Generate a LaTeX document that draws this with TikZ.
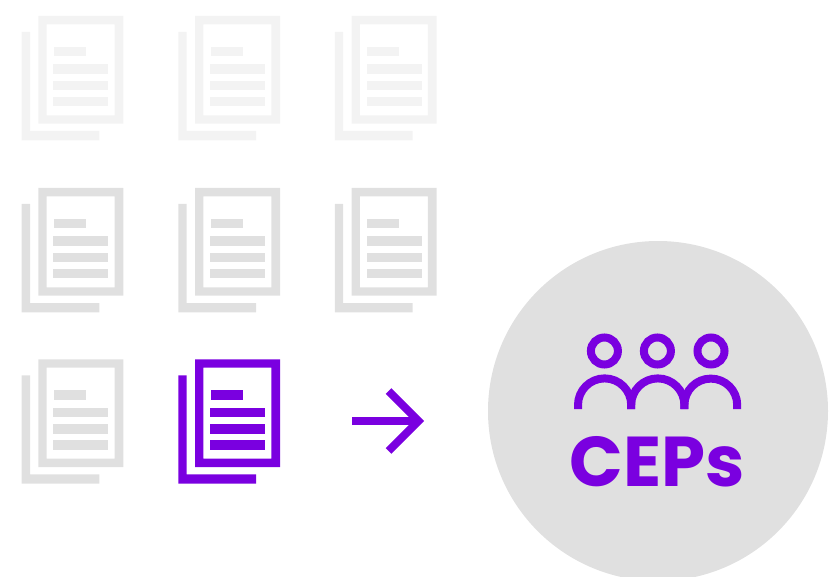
\documentclass[tikz,border=0pt]{standalone}
\usepackage{fontspec}
\setmainfont{Poppins}
\definecolor{vio}{HTML}{7A00E0}
\definecolor{pale}{HTML}{F3F3F3}
\definecolor{mid}{HTML}{E0E0E0}
\tikzset{
  docicon/.pic={
    % back sheet (L-shape)
    \fill (-16.7,16) -- (-8.3,16) -- (-8.3,115) -- (61,115) -- (61,124.3) -- (-16.7,124.3) -- cycle;
    % front sheet frame
    \fill[even odd rule] (0,0) rectangle (85,107.7) (8.3,8.3) rectangle (76.3,99.3);
    % text bars
    \fill (15.5,31) rectangle (47.5,40.3);
    \fill (15,48.3) rectangle (70,57.7);
    \fill (15,65) rectangle (70,74.3);
    \fill (15,81) rectangle (70,90.3);
  },
  headring/.style={circle,draw=vio,line width=8pt,minimum size=27pt,inner sep=0pt},
  shoulder/.style={draw=vio,line width=8pt},
  arrowline/.style={draw=vio,line width=8pt},
  biglabel/.style={text=vio,font=\fontsize{70.5}{70}\selectfont\bfseries,inner sep=0pt,anchor=base}
}
\begin{document}
\begin{tikzpicture}[x=1pt,y=-1pt]
\useasboundingbox (0,0) rectangle (832,577);
\clip (0,0) rectangle (832,577);
% document grid
\pic[color=pale] at (38.3,16) {docicon};
\pic[color=pale] at (195,16) {docicon};
\pic[color=pale] at (351.5,16) {docicon};
\pic[color=mid] at (38.3,188) {docicon};
\pic[color=mid] at (195,188) {docicon};
\pic[color=mid] at (351.5,188) {docicon};
\pic[color=mid] at (38.3,359.3) {docicon};
\pic[color=vio] at (195,359.3) {docicon};
% arrow
\coordinate (arrowstart) at (352.3,421);
\coordinate (arrowtip) at (418.5,421);
\coordinate (headtop) at (388.5,391);
\coordinate (headbot) at (388.5,451);
\draw[arrowline] (arrowstart) -- (arrowtip);
\draw[arrowline,miter limit=4] (headtop) -- (arrowtip) -- (headbot);
% circle
\node[circle,fill=mid,minimum size=340pt,inner sep=0pt] (disc) at (658,411) {};
% people
\node[headring] (h1) at (604.4,351) {};
\node[headring] (h2) at (657.4,351) {};
\node[headring] (h3) at (711,351) {};
\draw[shoulder] (578,409) -- (578,405) arc[start angle=180,end angle=360,radius=26.6] -- (631.2,409);
\draw[shoulder] (631.2,409) -- (631.2,405) arc[start angle=180,end angle=360,radius=26.6] -- (684.4,409);
\draw[shoulder] (684.4,409) -- (684.4,405) arc[start angle=180,end angle=360,radius=26.4] -- (737.2,409);
% label
\node[biglabel] (cep) at (657.5,486) {CEPs};
\end{tikzpicture}
\end{document}
